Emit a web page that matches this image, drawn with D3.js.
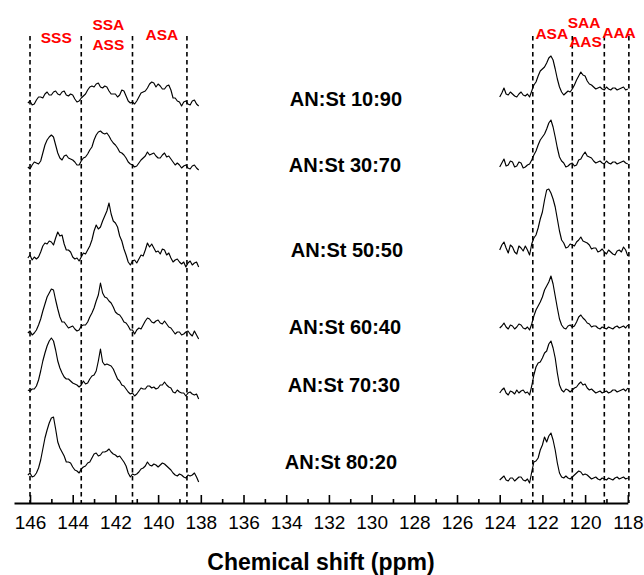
<!DOCTYPE html>
<html lang="en">
<head>
<meta charset="utf-8">
<title>13C NMR triads</title>
<script src="https://cdnjs.cloudflare.com/ajax/libs/d3/7.8.5/d3.min.js"></script>
<style>
  body { margin: 0; background: #fff; }
  svg { display: block; font-family: "Liberation Sans", Arial, Helvetica, sans-serif; }
</style>
</head>
<body>
<div id="chart"></div>
<script>
// chemical shift grids (ppm) for the two spectral windows
const ppmLeft = [
  146.1,146.0,145.9,145.8,145.7,145.6,145.5,145.4,145.3,145.2,
  145.1,145.0,144.9,144.8,144.7,144.6,144.5,144.4,144.3,144.2,
  144.1,144.0,143.9,143.8,143.7,143.6,143.5,143.4,143.3,143.2,
  143.1,143.0,142.9,142.8,142.7,142.6,142.5,142.4,142.3,142.2,
  142.1,142.0,141.9,141.8,141.7,141.6,141.5,141.4,141.3,141.2,
  141.1,141.0,140.9,140.8,140.7,140.6,140.5,140.4,140.3,140.2,
  140.1,140.0,139.9,139.8,139.7,139.6,139.5,139.4,139.3,139.2,
  139.1,139.0,138.9,138.8,138.7,138.6,138.5,138.4,138.3,138.2,
  138.1];
const ppmRight = [
  124.0,123.9,123.8,123.7,123.6,123.5,123.4,123.3,123.2,123.1,
  123.0,122.9,122.8,122.7,122.6,122.5,122.4,122.3,122.2,122.1,
  122.0,121.9,121.8,121.7,121.6,121.5,121.4,121.3,121.2,121.1,
  121.0,120.9,120.8,120.7,120.6,120.5,120.4,120.3,120.2,120.1,
  120.0,119.9,119.8,119.7,119.6,119.5,119.4,119.3,119.2,119.1,
  119.0,118.9,118.8,118.7,118.6,118.5,118.4,118.3,118.2,118.1,
  118.0];

const samples = ["AN:St 10:90", "AN:St 30:70", "AN:St 50:50", "AN:St 60:40", "AN:St 70:30", "AN:St 80:20"];

// stacking offsets (intensity units) for each spectrum
const offsetLeft = [399, 336, 245, 170, 112, 28];
const offsetRight = [407, 336, 253, 175, 110, 23];

// intensities, aromatic C1 region (146-138 ppm)
const left1090 = [1,3,-1,0,4,7,7,6,10,12, 9,9,12,13,10,9,12,13,9,8, 10,9,5,2,3,6,8,10,14,17, 18,17,20,21,17,16,18,17,13,10,
  10,10,7,9,14,13,8,3,1,2, 0,3,7,11,12,13,16,20,22,21, 17,20,18,15,15,18,19,14,6,6, 3,2,-2,2,3,0,-1,3,4,0, -2];
const left3070 = [0,-2,2,5,4,3,6,14,22,27, 30,32,30,22,14,9,7,11,12,9, 8,7,5,2,2,6,9,10,13,17, 20,27,32,35,36,34,33,34,31,27,
  24,22,19,15,14,12,9,5,3,2, 0,1,4,7,9,11,15,12,13,14, 11,9,9,12,14,10,11,8,5,2, 4,2,-1,1,2,-1,-2,1,2,-1, -3];
const left5050 = [0,3,-2,1,-1,1,6,12,15,14, 17,16,13,20,26,22,23,14,8,8, 6,1,-1,0,-3,1,5,4,8,12, 18,27,33,29,31,37,42,47,55,44,
  37,35,31,22,17,9,3,-4,-7,-3, -2,-5,-1,3,2,8,15,11,14,10, 6,7,4,9,8,3,5,0,-4,-2, -1,-4,-6,-4,-9,-5,-3,-7,-5,-4, -9];
const left6040 = [0,2,-2,0,3,8,14,22,29,36, 40,44,43,33,24,16,11,11,8,5, 6,7,4,2,3,7,8,8,11,16, 20,25,32,38,50,40,36,35,32,30,
  26,21,19,18,15,11,10,7,3,3, -1,3,5,4,8,12,15,14,11,10, 12,13,10,9,12,9,6,5,2,-1, 1,1,-2,-1,1,2,-1,-3,2,-2, -6];
const left7030 = [1,0,2,2,5,11,20,30,38,45, 50,53,50,41,30,23,18,14,12,12, 10,8,7,6,4,6,10,7,8,12, 15,16,20,30,42,29,26,27,26,25,
  22,17,12,10,6,5,2,-1,-3,-2, -5,-3,0,3,2,2,5,5,3,4, 2,3,6,6,9,6,4,3,-1,-2, 1,-1,-2,-2,-5,-2,-1,-3,-4,-3, -8];
const left8020 = [0,2,-2,-1,2,7,15,26,37,45, 52,57,58,46,33,27,23,19,13,13, 12,8,5,4,2,6,8,9,12,13, 17,21,22,19,20,23,23,24,26,23,
  21,20,18,19,16,13,9,2,-2,1, 0,1,3,6,7,9,13,10,9,11, 10,8,10,12,11,9,7,5,2,0, -1,1,0,-2,-3,0,-1,0,2,-2, -7];

// intensities, nitrile region (124-118 ppm)
const right1090 = [-1,3,8,2,1,4,2,0,-1,2, 4,1,0,2,-1,5,11,14,20,25, 27,29,33,38,40,36,27,17,9,4,
  1,3,5,4,7,11,16,20,24,21, 20,15,12,11,9,7,8,9,7,6, 9,7,6,8,8,6,7,8,9,6, 7];
const right3070 = [0,4,8,1,2,6,5,0,1,5, 4,-1,0,2,3,7,12,16,22,27, 30,33,38,44,47,40,30,19,10,6,
  4,0,1,3,4,1,2,7,8,12, 15,11,10,9,6,4,5,6,4,3, 6,4,3,5,5,3,4,5,6,4, 3];
const right5050 = [0,5,8,2,-3,5,3,-2,-4,4, 2,-1,4,0,-5,6,12,15,22,31, 38,50,60,61,57,51,43,31,19,10,
  7,2,3,6,5,4,8,10,13,9, 8,7,5,1,2,2,-2,-1,1,-2, -4,0,-2,-4,-5,-1,0,-2,3,0, -6];
const right6040 = [0,2,5,1,-1,3,2,-1,1,4, 3,0,-1,1,-2,4,12,18,22,26, 31,38,42,46,52,44,32,20,9,3,
  0,-1,2,3,1,2,6,11,13,10, 8,5,4,1,2,2,0,-1,1,0, -1,1,0,-1,1,2,0,1,2,0, 3];
const right7030 = [0,3,5,0,-2,2,1,-1,3,0, 2,3,0,1,-2,7,18,26,30,31, 35,40,42,49,52,45,35,20,8,3,
  1,4,3,1,3,5,6,9,11,8, 9,5,3,4,2,0,1,2,0,1, 2,0,1,3,3,1,2,3,4,2, 5];
const right8020 = [0,2,4,0,-1,2,2,-1,1,3, 3,0,-1,1,-3,8,18,19,22,30, 35,43,38,44,47,40,30,17,7,3,
  2,4,2,1,3,5,7,9,8,5, 6,5,3,1,2,3,1,0,2,1, 0,2,1,0,2,3,1,2,3,1, 2];

const leftSeries = [left1090, left3070, left5050, left6040, left7030, left8020];
const rightSeries = [right1090, right3070, right5050, right6040, right7030, right8020];

// triad region boundaries and labels
const dividers = [146.0, 143.6, 141.2, 138.65, 122.45, 120.6, 119.1, 117.95];
const triadNames = ["SSS", "SSA", "ASS", "ASA", "ASA", "SAA", "AAS", "AAA"];
const triadPpm = [144.77, 142.33, 142.33, 139.82, 121.56, 120.05, 119.98, 118.41];

const xTicks = [146,144,142,140,138,136,134,132,130,128,126,124,122,120,118];
const xMinorTicks = [145,143,141,139,137,135,133,131,129,127,125,123,121,119];

const width = 644, height = 575;
const axisY = 503;

const svg = d3.select('#chart')
  .append('svg')
  .attr('width', width)
  .attr('height', height);

const x = d3.scaleLinear()
  .domain([146.75, 118])
  .range([14, 627.8]);

const y = d3.scaleLinear()
  .domain([0, 470])
  .range([axisY, 33]);

// dashed triad dividers
svg.append('g')
  .selectAll('line')
  .data(dividers)
  .enter()
  .append('line')
  .attr('x1', d => x(d))
  .attr('x2', d => x(d))
  .attr('y1', 36)
  .attr('y2', axisY)
  .attr('stroke', '#000')
  .attr('stroke-width', 1.6)
  .attr('stroke-dasharray', '4.5,3.5');

// triad labels (red)
const triadRowY = [42.5, 30, 50, 39.5, 38.5, 27.5, 46.5, 37.5];
svg.append('g')
  .selectAll('text')
  .data(triadNames)
  .enter()
  .append('text')
  .attr('x', (d, i) => x(triadPpm[i]))
  .attr('y', (d, i) => triadRowY[i])
  .attr('text-anchor', 'middle')
  .attr('font-size', '15.5px')
  .attr('font-weight', 'bold')
  .attr('fill', '#ff0000')
  .text(d => d);

// spectra
const line = d3.line()
  .x(d => x(d[0]))
  .y(d => y(d[1]));

leftSeries.forEach((vals, k) => {
  const pts = ppmLeft.map((p, i) => [p, vals[i] + offsetLeft[k]]);
  svg.append('path')
    .attr('d', line(pts))
    .attr('fill', 'none')
    .attr('stroke', '#000')
    .attr('stroke-width', 1.15)
    .attr('stroke-linejoin', 'round');
});

rightSeries.forEach((vals, k) => {
  const pts = ppmRight.map((p, i) => [p, vals[i] + offsetRight[k]]);
  svg.append('path')
    .attr('d', line(pts))
    .attr('fill', 'none')
    .attr('stroke', '#000')
    .attr('stroke-width', 1.15)
    .attr('stroke-linejoin', 'round');
});

// sample names
const sampleY = [106, 171.5, 257, 334, 391.5, 468.5];
const sampleX = [346, 345, 347, 345, 344, 341];
svg.append('g')
  .selectAll('text')
  .data(samples)
  .enter()
  .append('text')
  .attr('x', (d, i) => sampleX[i])
  .attr('y', (d, i) => sampleY[i])
  .attr('text-anchor', 'middle')
  .attr('font-size', '20px')
  .attr('font-weight', 'bold')
  .attr('fill', '#000')
  .text(d => d);

// x axis: major ticks point inward
const xAxis = d3.axisBottom(x)
  .tickValues(xTicks)
  .tickSizeInner(-8)
  .tickSizeOuter(0)
  .tickPadding(12.5)
  .tickFormat(d3.format('d'));

const gx = svg.append('g')
  .attr('transform', `translate(0, ${axisY})`)
  .call(xAxis);

gx.select('.domain').attr('stroke-width', 2);
gx.selectAll('.tick line').attr('stroke-width', 1.6);
gx.selectAll('.tick text')
  .attr('font-size', '19px')
  .attr('font-family', '"Liberation Sans", Arial, sans-serif')
  .attr('fill', '#000');

const xMinor = d3.axisBottom(x)
  .tickValues(xMinorTicks)
  .tickSizeInner(-4)
  .tickSizeOuter(0)
  .tickFormat('');

const gm = svg.append('g')
  .attr('transform', `translate(0, ${axisY})`)
  .call(xMinor);
gm.select('.domain').remove();
gm.selectAll('.tick line').attr('stroke-width', 1.6);

svg.append('text')
  .attr('x', 321)
  .attr('y', 570)
  .attr('text-anchor', 'middle')
  .attr('font-size', '23px')
  .attr('font-weight', 'bold')
  .text('Chemical shift (ppm)');
</script>
</body>
</html>
